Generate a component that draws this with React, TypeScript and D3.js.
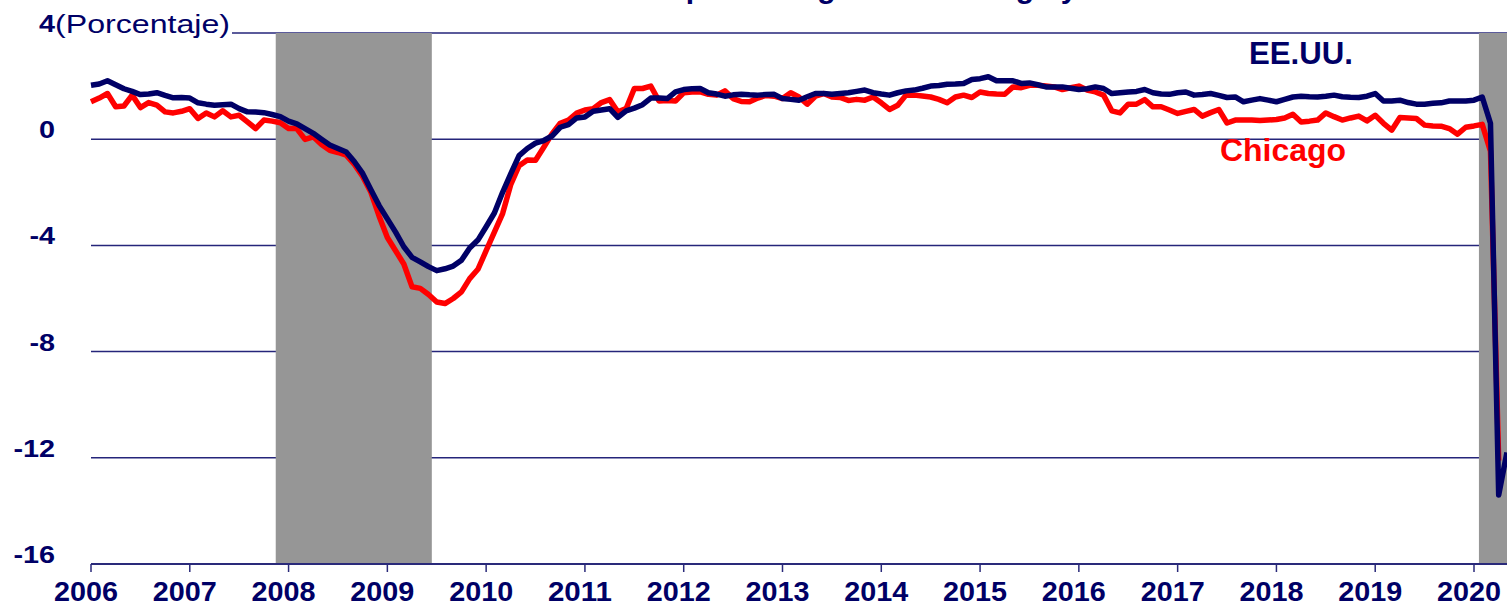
import React, { useEffect, useRef } from 'react';
import * as d3 from 'd3';

// monthly series, first value = Jan 2006
const START_YEAR = 2006;

const usValues = [
  2.03, 2.08, 2.2, 2.05, 1.9, 1.8, 1.68, 1.7, 1.75, 1.65, 1.56, 1.57,
  1.55, 1.37, 1.32, 1.28, 1.3, 1.32, 1.15, 1.03, 1.02, 1.0, 0.93, 0.85,
  0.68, 0.58, 0.4, 0.22, 0.0, -0.22, -0.35, -0.48, -0.85, -1.29, -1.9, -2.5,
  -3.0, -3.5, -4.05, -4.45, -4.62, -4.8, -4.95, -4.88, -4.78, -4.56, -4.1, -3.8,
  -3.3, -2.78, -2.0, -1.3, -0.62, -0.35, -0.15, -0.05, 0.12, 0.45, 0.55, 0.8,
  0.84, 1.05, 1.1, 1.15, 0.82, 1.07, 1.17, 1.3, 1.55, 1.55, 1.53, 1.78,
  1.87, 1.9, 1.91, 1.75, 1.7, 1.62, 1.67, 1.69, 1.67, 1.66, 1.68, 1.69,
  1.53, 1.5, 1.47, 1.6, 1.72, 1.72, 1.69, 1.72, 1.75, 1.8, 1.85, 1.75,
  1.7, 1.66, 1.75, 1.82, 1.85, 1.92, 2.0, 2.02, 2.07, 2.08, 2.1, 2.25,
  2.28, 2.35, 2.2, 2.2, 2.2, 2.1, 2.12, 2.05, 1.97, 1.97, 1.97, 1.92,
  1.87, 1.9, 1.97, 1.91, 1.72, 1.75, 1.78, 1.8, 1.87, 1.75, 1.7, 1.69,
  1.75, 1.78, 1.66, 1.68, 1.72, 1.65, 1.57, 1.59, 1.41, 1.47, 1.53, 1.47,
  1.41, 1.5, 1.59, 1.62, 1.6, 1.59, 1.62, 1.66, 1.6, 1.58, 1.57, 1.62,
  1.72, 1.44, 1.44, 1.47, 1.38, 1.32, 1.32, 1.35, 1.37, 1.44, 1.44, 1.44,
  1.47, 1.59, 0.6, -13.4, -11.8
];

const chicagoValues = [
  1.41, 1.55, 1.72, 1.22, 1.25, 1.66, 1.19, 1.38, 1.28, 1.03, 0.99, 1.05,
  1.15, 0.78, 0.99, 0.84, 1.07, 0.84, 0.9, 0.65, 0.4, 0.72, 0.68, 0.62,
  0.4, 0.4, -0.01, 0.09, -0.2, -0.42, -0.5, -0.6, -0.95, -1.4, -2.0, -2.9,
  -3.7, -4.2, -4.7, -5.56, -5.62, -5.85, -6.13, -6.19, -6.0, -5.75, -5.25, -4.9,
  -4.2, -3.5, -2.8, -1.7, -1.0, -0.78, -0.79, -0.3, 0.2, 0.6, 0.72, 0.98,
  1.1, 1.15, 1.38, 1.49, 1.03, 1.15, 1.91, 1.91, 2.0, 1.44, 1.46, 1.44,
  1.75, 1.78, 1.78, 1.69, 1.66, 1.82, 1.53, 1.42, 1.41, 1.55, 1.65, 1.62,
  1.53, 1.75, 1.59, 1.32, 1.62, 1.72, 1.59, 1.57, 1.46, 1.5, 1.47, 1.59,
  1.37, 1.12, 1.28, 1.66, 1.66, 1.63, 1.59, 1.5, 1.37, 1.59, 1.66, 1.57,
  1.78, 1.72, 1.7, 1.69, 1.97, 1.94, 2.03, 2.03, 2.0, 1.97, 1.87, 1.94,
  2.0, 1.85, 1.78, 1.66, 1.07, 0.99, 1.32, 1.32, 1.49, 1.22, 1.22, 1.1,
  0.97, 1.05, 1.12, 0.87, 1.0, 1.12, 0.61, 0.72, 0.72, 0.72, 0.7, 0.72,
  0.74, 0.8, 0.94, 0.65, 0.68, 0.72, 0.99, 0.85, 0.72, 0.8, 0.87, 0.69,
  0.9, 0.6, 0.34, 0.82, 0.8, 0.78, 0.53, 0.5, 0.49, 0.4, 0.19, 0.45,
  0.5, 0.56, -0.45, -12.1
];

const yearTicks = [2006, 2007, 2008, 2009, 2010, 2011, 2012, 2013, 2014, 2015, 2016, 2017, 2018, 2019, 2020];
const yTicks = [4, 0, -4, -8, -12, -16];
// recession periods, decimal years
const recessions = [[2007.87, 2009.45], [2020.05, 2020.6]];

const WIDTH = 1507;
const HEIGHT = 608;
const NAVY = '#000066';
const RED = '#ff0000';
const SHADE = '#969696';

const App = () => {
  const svgRef = useRef(null);

  useEffect(() => {
    const svg = d3.select(svgRef.current);
    svg.selectAll('*').remove();

    const x = d3.scaleLinear().domain([2006, 2020]).range([91, 1474]);
    const y = d3.scaleLinear().domain([-16, 4]).range([564, 33]);
    const right = WIDTH;

    // title, cropped at the top like the original
    svg.append('text')
      .attr('x', 754)
      .attr('y', -2)
      .attr('text-anchor', 'middle')
      .style('font-family', '"Liberation Sans", Arial, sans-serif')
      .style('font-weight', 'bold')
      .style('font-size', '30px')
      .style('fill', NAVY)
      .text('Crecimiento anual del empleo no agrícola: Chicago y EE.UU.');

    // grid lines
    svg.append('g')
      .selectAll('line')
      .data(yTicks.filter(d => d !== -16))
      .join('line')
      .attr('x1', x(2006))
      .attr('x2', right)
      .attr('y1', d => y(d))
      .attr('y2', d => y(d))
      .attr('stroke', '#25257a')
      .attr('stroke-width', 1.5);

    // recession shading
    svg.append('g')
      .selectAll('rect')
      .data(recessions)
      .join('rect')
      .attr('x', d => x(d[0]))
      .attr('width', d => Math.min(x(d[1]), right) - x(d[0]))
      .attr('y', y(4))
      .attr('height', y(-16) - y(4))
      .attr('fill', SHADE);

    // x axis
    svg.append('line')
      .attr('x1', x(2006))
      .attr('x2', right)
      .attr('y1', y(-16))
      .attr('y2', y(-16))
      .attr('stroke', '#2a2a7a')
      .attr('stroke-width', 2);

    const xt = svg.append('g');
    xt.selectAll('line')
      .data(yearTicks)
      .join('line')
      .attr('x1', d => x(d))
      .attr('x2', d => x(d))
      .attr('y1', y(-16))
      .attr('y2', y(-16) + 8)
      .attr('stroke', '#2a2a7a')
      .attr('stroke-width', 1.5);
    xt.selectAll('text')
      .data(yearTicks)
      .join('text')
      .attr('x', d => x(d) - 5)
      .attr('y', 601)
      .attr('text-anchor', 'middle')
      .attr('textLength', 64)
      .attr('lengthAdjust', 'spacingAndGlyphs')
      .style('font-family', '"Liberation Sans Narrow", "Liberation Sans", Arial, sans-serif')
      .style('font-weight', 'bold')
      .style('font-size', '28px')
      .style('fill', NAVY)
      .text(d => d);

    // y labels
    const ytl = svg.append('g');
    ytl.append('rect')
      .attr('x', 36)
      .attr('y', 8)
      .attr('width', 196)
      .attr('height', 32)
      .attr('fill', '#fff');
    ytl.selectAll('text.tick')
      .data(yTicks)
      .join('text')
      .attr('class', 'tick')
      .attr('transform', d => `translate(55,${y(d) - 1}) scale(1.2,1)`)
      .attr('text-anchor', 'end')
      .style('font-family', '"Liberation Sans", Arial, sans-serif')
      .style('font-weight', 'bold')
      .style('font-size', '24px')
      .style('fill', NAVY)
      .text(d => d);
    ytl.append('text')
      .attr('x', 55)
      .attr('y', y(4))
      .attr('textLength', 175)
      .attr('lengthAdjust', 'spacingAndGlyphs')
      .style('font-family', '"Liberation Sans", Arial, sans-serif')
      .style('font-size', '25px')
      .style('fill', NAVY)
      .text('(Porcentaje)');

    // series
    const line = d3.line<number>()
      .x((d, i) => x(START_YEAR + i / 12))
      .y(d => y(d));

    svg.append('path')
      .datum(chicagoValues)
      .attr('d', line)
      .attr('fill', 'none')
      .attr('stroke', RED)
      .attr('stroke-width', 5.5)
      .attr('stroke-linejoin', 'round');

    svg.append('path')
      .datum(usValues)
      .attr('d', line)
      .attr('fill', 'none')
      .attr('stroke', NAVY)
      .attr('stroke-width', 5.5)
      .attr('stroke-linejoin', 'round');

    // series labels
    svg.append('text')
      .attr('x', 1249)
      .attr('y', 64)
      .attr('textLength', 104)
      .attr('lengthAdjust', 'spacingAndGlyphs')
      .style('font-family', '"Liberation Sans", Arial, sans-serif')
      .style('font-weight', 'bold')
      .style('font-size', '31px')
      .style('fill', NAVY)
      .text('EE.UU.');

    svg.append('text')
      .attr('x', 1220)
      .attr('y', 161)
      .attr('textLength', 126)
      .attr('lengthAdjust', 'spacingAndGlyphs')
      .style('font-family', '"Liberation Sans", Arial, sans-serif')
      .style('font-weight', 'bold')
      .style('font-size', '31px')
      .style('fill', RED)
      .text('Chicago');
  }, []);

  return (
    <svg
      ref={svgRef}
      width={WIDTH}
      height={HEIGHT}
      style={{ position: 'absolute', left: 0, top: 0, background: '#fff', overflow: 'hidden' }}
    />
  );
};

export default App;
